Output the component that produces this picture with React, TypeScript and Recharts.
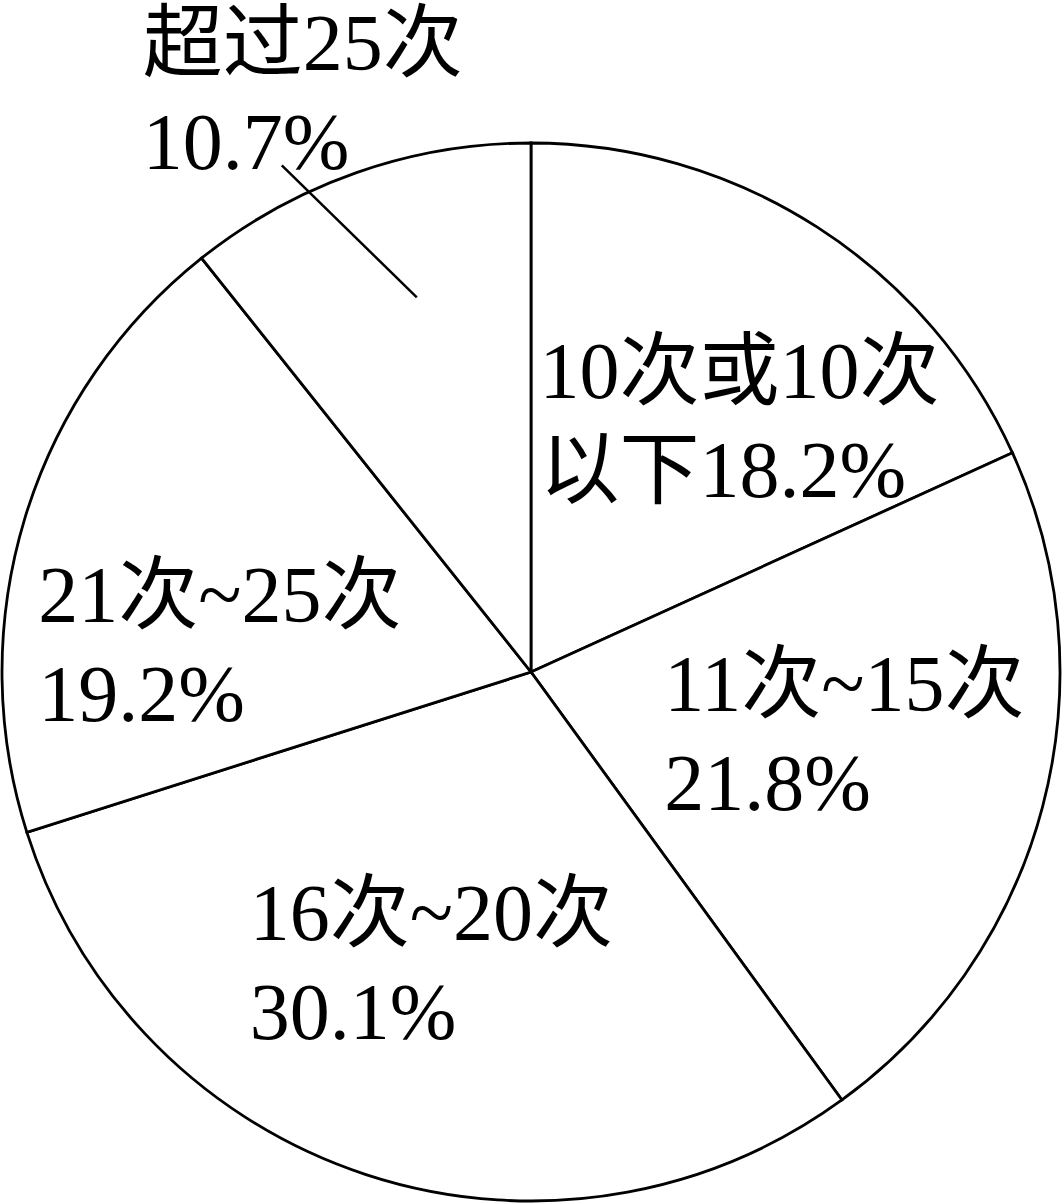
import { PieChart, Pie, Cell } from "recharts";

const CATEGORIES = ["10次或10次以下", "11次~15次", "16次~20次", "21次~25次", "超过25次"];
const SHARES = [18.2, 21.8, 30.1, 19.2, 10.7];
// where each label wraps onto its second line
const BREAK_AT = [7, 7, 7, 7, 5];

// label placement relative to the point at 0.62R along each slice's mid angle
const LABEL_SHIFT: [number, number][] = [
  [-169, 2],
  [-184, -45],
  [-179, -44],
  [-179, 45],
  [-280, -292],
];

const RADIAN = Math.PI / 180;
const FONT = '"Liberation Serif", "Times New Roman", "Noto Sans CJK SC", serif';

const data = CATEGORIES.map((name, i) => ({ name, value: SHARES[i] }));

function renderLabel(props: any) {
  const { cx, cy, midAngle, outerRadius, index } = props;
  const r = outerRadius * 0.62;
  const px = cx + r * Math.cos(-midAngle * RADIAN);
  const py = cy + r * Math.sin(-midAngle * RADIAN);
  const [dx, dy] = LABEL_SHIFT[index];
  const full = `${CATEGORIES[index]}${SHARES[index]}%`;
  const first = full.slice(0, BREAK_AT[index]);
  const second = full.slice(BREAK_AT[index]);
  const x = px + dx;
  const y = py + dy;
  return (
    <g key={`label-${index}`}>
      {index === 4 && (
        <line
          x1={px - 6}
          y1={py - 65}
          x2={px - 141}
          y2={py - 197}
          stroke="#000"
          strokeWidth={2.5}
        />
      )}
      <text x={x} y={y} fontFamily={FONT} fontSize={80} fill="#000" textAnchor="start">
        {first}
      </text>
      <text x={x} y={y + 99} fontFamily={FONT} fontSize={80} fill="#000" textAnchor="start">
        {second}
      </text>
    </g>
  );
}

export default function App() {
  return (
    <div style={{ width: 1062, height: 1203, background: "#fff" }}>
      <style>{`body{margin:0;background:#fff}`}</style>
      <PieChart width={1062} height={1203} margin={{ top: 0, right: 0, bottom: 0, left: 0 }}>
        <Pie
          data={data}
          dataKey="value"
          nameKey="name"
          cx={531}
          cy={672}
          outerRadius={529}
          startAngle={90}
          endAngle={-270}
          stroke="#000"
          strokeWidth={2.8}
          label={renderLabel}
          labelLine={false}
          isAnimationActive={false}
        >
          {data.map((d) => (
            <Cell key={d.name} fill="#fff" />
          ))}
        </Pie>
      </PieChart>
    </div>
  );
}
